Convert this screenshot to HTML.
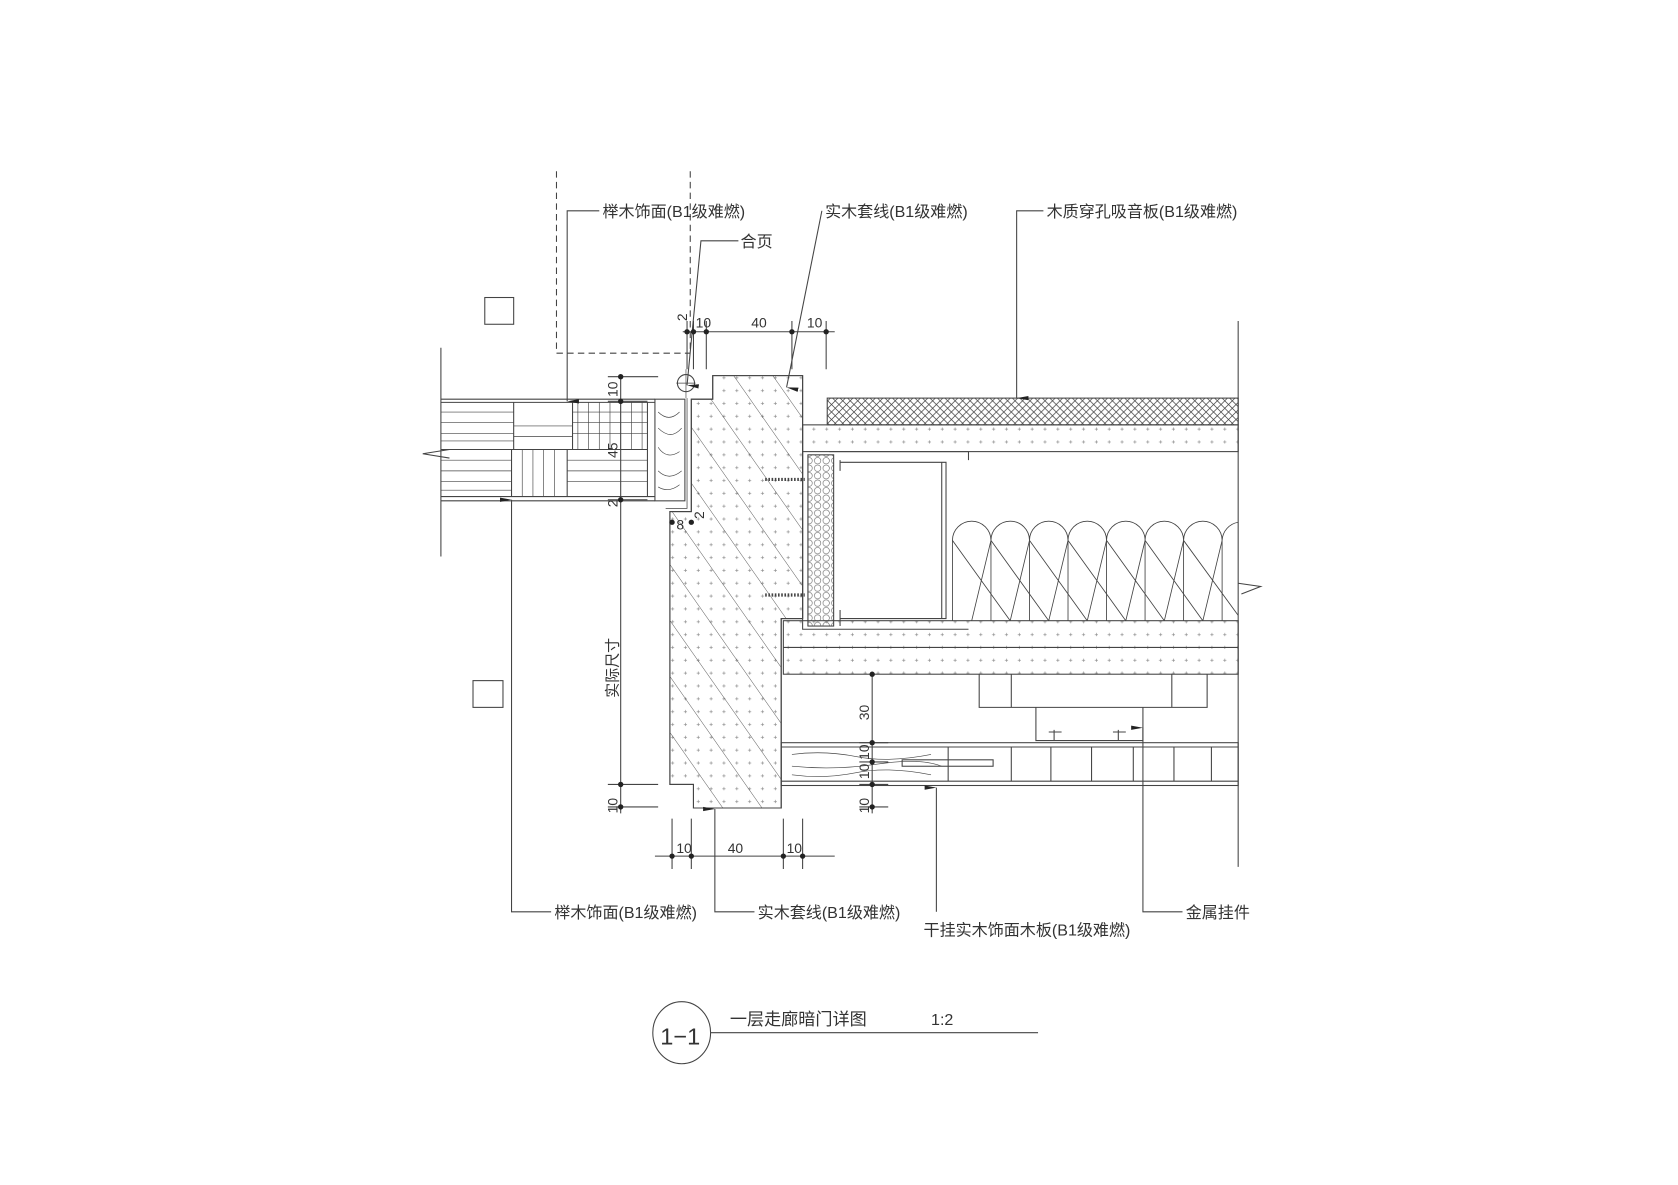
<!DOCTYPE html>
<html><head><meta charset="utf-8"><style>
html,body{margin:0;padding:0;background:#fff;}
svg{display:block}
text{font-family:"Liberation Sans","Noto Sans CJK SC",sans-serif;fill:#333;}
</style></head><body>
<svg width="1678" height="1185" viewBox="0 0 1568 1107.3" xmlns="http://www.w3.org/2000/svg">
<defs>
<pattern id="dots" width="12" height="12" patternUnits="userSpaceOnUse"><path d="M3 5h3M4.5 3.5v3" stroke="#888" stroke-width="0.6"/></pattern>
<pattern id="cross" width="7" height="7" patternUnits="userSpaceOnUse"><path d="M0 0L7 7M7 0L0 7" stroke="#444" stroke-width="0.7"/></pattern>
<pattern id="diag" width="30" height="30" patternUnits="userSpaceOnUse" patternTransform="rotate(-35)"><path d="M0 0V30" stroke="#444" stroke-width="0.8"/></pattern>
<pattern id="hex" width="8" height="7" patternUnits="userSpaceOnUse"><circle cx="4" cy="3.5" r="3" fill="none" stroke="#555" stroke-width="0.5"/></pattern>
<marker id="ar" markerWidth="10" markerHeight="12" refX="5" refY="11" orient="auto" markerUnits="userSpaceOnUse"><path d="M3 0L5 11L7 0Z" fill="#222"/></marker>
</defs>
<g stroke="#444" stroke-width="1" fill="none">
<path d="M520 160V330H645M645 160V330" stroke-dasharray="6,4"/>
<rect x="453" y="278" width="27" height="25"/>
<rect x="442" y="636" width="28" height="25"/>
<path d="M412 325V520"/>
<path d="M395 424L420 420M395 424L420 428" />
<path d="M412 373H612M412 376H612M412 420H605M412 464H612M412 468H612"/>
<path d="M480 376V420M535 376V420M530 420V464M478 420V464M605 376V464"/>
<g stroke-width="0.6">
<path d="M412 385H480M412 395H480M412 405H480M412 412H480M480 398H535M480 408H535M535 385H605M535 395H605M535 405H605M540 376V420M550 376V420M560 376V420M570 376V420M580 376V420M590 376V420M600 376V420"/>
<path d="M412 430H478M412 440H478M412 450H478M412 458H478M488 420V464M498 420V464M508 420V464M518 420V464M530 430H605M530 440H605M530 450H605"/>
</g>
<rect x="612" y="373" width="28" height="95"/>
<path d="M615 385q10 10 20 0M615 400q12 12 22 0M615 418q8 12 20 4M615 440q10 10 22 0M615 455q10 6 20 -2" stroke-width="0.6"/>
<circle cx="641" cy="358" r="8"/>
<path d="M641 345V372M632 358H650" stroke-width="0.6"/>
<path d="M666 351H750V578H730V755H648V733H626V478H646V373H666Z" fill="url(#dots)"/>
<path d="M666 351H750V578H730V755H648V733H626V478H646V373H666Z" fill="url(#diag)"/>
<path d="M642 372V475H622" stroke-width="0.7"/>
<path d="M715 448H752M715 556H752" stroke-width="3" stroke-dasharray="1.5,1.5"/>
<rect x="773" y="372" width="384" height="25" fill="url(#cross)"/>
<rect x="750" y="397" width="407" height="25" fill="url(#dots)"/>
<rect x="755" y="425" width="24" height="160" fill="url(#hex)"/>
<path d="M750 422V588H905M755 425V585"/>
<path d="M785 432H884V578H785M880 432V578M785 440V430M785 585V570" />
<path d="M775 422H905V430" />
<g stroke-width="0.8">
<path d="M890 580V505a18 18 0 0 1 36 0V580M926 580V505a18 18 0 0 1 36 0V580M962 580V505a18 18 0 0 1 36 0V580M998 580V505a18 18 0 0 1 36 0V580M1034 580V505a18 18 0 0 1 36 0V580M1070 580V505a18 18 0 0 1 36 0V580M1106 580V505a18 18 0 0 1 36 0V580M1142 580V505a18 18 0 0 1 15 -17"/>
<path d="M890 505L944 580M926 505L908 580M926 505L980 580M962 505L944 580M962 505L1016 580M998 505L980 580M998 505L1052 580M1034 505L1016 580M1034 505L1088 580M1070 505L1052 580M1070 505L1124 580M1106 505L1088 580M1106 505L1157 575M1142 505L1124 580"/>
</g>
<path d="M1157 300V810"/>
<path d="M1157 545L1178 548L1160 555" />
<rect x="732" y="580" width="425" height="50" fill="url(#dots)"/>
<path d="M732 605H1157"/>
<path d="M915 630V661H1128V630M945 630V661M1095 630V661M968 661V692H1068V661M985 692V682M1045 692V682"/>
<path d="M980 684H992M1040 684H1052"/>
<rect x="730" y="694" width="427" height="40"/>
<path d="M730 698H1157M730 730H1157M886 698V730M945 698V730M982 698V730M1020 698V730M1059 698V730M1097 698V730M1132 698V730"/>
<path d="M740 705q30 -4 60 2t70 -2M740 716q40 4 80 -2t60 2M740 724q30 4 60 -2t70 2" stroke-width="0.6"/>
<rect x="843" y="710" width="85" height="6"/>
<path d="M638 310H780M642 300V345M648 300V345M660 300V345M740 300V345M772 300V345"/>
<path d="M580 350V760M568 352H615M568 375H605M568 467H605M568 733H615M568 754H615"/>
<path d="M815 630V760M803 694H830M803 712H830M803 733H830M803 754H830"/>
<path d="M612 800H780M628 765V812M646 765V812M732 765V812M750 765V812"/>
<path d="M560 197H530V375" marker-end="url(#ar)"/>
<path d="M768 197L735 362" marker-end="url(#ar)"/>
<path d="M975 197H950V372" marker-end="url(#ar)"/>
<path d="M690 225H655L642 360" marker-end="url(#ar)"/>
<path d="M515 852H478V467" marker-end="url(#ar)"/>
<path d="M705 852H668V756" marker-end="url(#ar)"/>
<path d="M875 852V736" marker-end="url(#ar)"/>
<path d="M1105 852H1068V680" marker-end="url(#ar)"/>
<ellipse cx="637" cy="965" rx="27" ry="29"/>
<path d="M664 965H970"/>
</g>
<g fill="#222">
<circle cx="642" cy="310" r="2.5"/><circle cx="648" cy="310" r="2.5"/><circle cx="660" cy="310" r="2.5"/><circle cx="740" cy="310" r="2.5"/><circle cx="772" cy="310" r="2.5"/>
<circle cx="580" cy="352" r="2.5"/><circle cx="580" cy="375" r="2.5"/><circle cx="580" cy="467" r="2.5"/><circle cx="580" cy="733" r="2.5"/><circle cx="580" cy="754" r="2.5"/>
<circle cx="815" cy="694" r="2.5"/><circle cx="815" cy="712" r="2.5"/><circle cx="815" cy="733" r="2.5"/><circle cx="815" cy="754" r="2.5"/><circle cx="815" cy="630" r="2.5"/>
<circle cx="628" cy="800" r="2.5"/><circle cx="646" cy="800" r="2.5"/><circle cx="732" cy="800" r="2.5"/><circle cx="750" cy="800" r="2.5"/>
<circle cx="628" cy="488" r="2.5"/><circle cx="646" cy="488" r="2.5"/>
</g>
<g font-size="15">
<text x="563" y="203">榉木饰面(B1级难燃)</text>
<text x="771" y="203">实木套线(B1级难燃)</text>
<text x="978" y="203">木质穿孔吸音板(B1级难燃)</text>
<text x="692" y="231">合页</text>
<text x="518" y="858">榉木饰面(B1级难燃)</text>
<text x="708" y="858">实木套线(B1级难燃)</text>
<text x="863" y="874">干挂实木饰面木板(B1级难燃)</text>
<text x="1108" y="858">金属挂件</text>
</g>
<g font-size="13">
<text x="650" y="306">10</text><text x="702" y="306">40</text><text x="754" y="306">10</text>
<text x="636" y="306" transform="rotate(-90 636 300)">2</text>
<text x="632" y="797">10</text><text x="680" y="797">40</text><text x="735" y="797">10</text>
<text x="632" y="495">8</text>
<text x="653" y="490" transform="rotate(-90 653 485)">2</text>
<text transform="translate(577 371) rotate(-90)">10</text>
<text transform="translate(577 428) rotate(-90)">45</text>
<text transform="translate(577 474) rotate(-90)">2</text>
<text transform="translate(577 652) rotate(-90)" font-size="14">实际尺寸</text>
<text transform="translate(577 760) rotate(-90)">10</text>
<text transform="translate(812 673) rotate(-90)">30</text>
<text transform="translate(812 710) rotate(-90)">10</text>
<text transform="translate(812 728) rotate(-90)">10</text>
<text transform="translate(812 760) rotate(-90)">10</text>
</g>
<text x="617" y="976" font-size="22">1−1</text>
<text x="682" y="958" font-size="16">一层走廊暗门详图</text>
<text x="870" y="958" font-size="15" font-family="Liberation Serif,serif">1:2</text>
</svg>
</body></html>
